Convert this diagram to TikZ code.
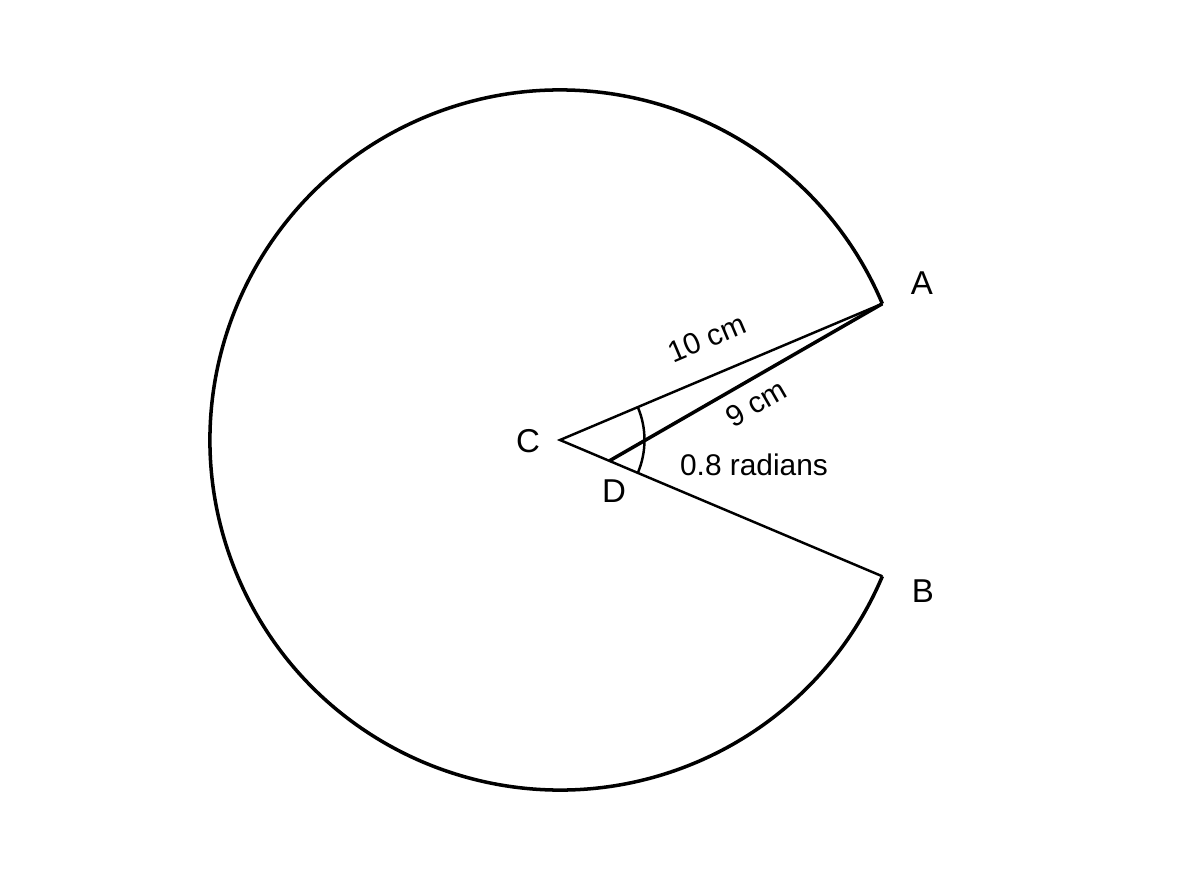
\documentclass[tikz,border=0pt]{standalone}
\usepackage{fontspec}
\setmainfont{Liberation Sans}
\begin{document}
\begin{tikzpicture}[
  thick line/.style={line width=1.0pt, line join=miter},
  thin line/.style={line width=0.7pt},
  ptlabel/.style={font=\fontsize{9.4}{11}\selectfont, inner sep=0pt},
  dimlabel/.style={font=\fontsize{8.5}{10}\selectfont, inner sep=0pt}
]
\useasboundingbox (-5.6,-4.4) rectangle (6.4,4.4);
\pgfmathsetmacro{\ha}{22.918}
\coordinate (C) at (0,0);
\coordinate (A) at (\ha:3.5);
\coordinate (B) at (-\ha:3.5);
\coordinate (D) at (-\ha:0.536);
% major arc
\draw[thick line] (A) arc[start angle=\ha, end angle=360-\ha, radius=3.5];
% radii
\draw[thin line, line join=miter] (A) -- (C) -- (B);
\draw[thick line] (D) -- (A);
% angle mark
\draw[thin line] (\ha:0.845) arc[start angle=\ha, end angle=-\ha, radius=0.845];
% labels
\node[ptlabel] (lA) at (3.62,1.57) {A};
\node[ptlabel] (lB) at (3.63,-1.51) {B};
\node[ptlabel] (lC) at (-0.32,-0.01) {C};
\node[ptlabel] (lD) at (0.54,-0.51) {D};
\node[dimlabel, rotate=23] (l10) at (1.47,1.02) {10 cm};
\node[dimlabel, rotate=30] (l9) at (1.96,0.37) {9 cm};
\node[dimlabel] (lrad) at (1.94,-0.25) {0.8 radians};
\end{tikzpicture}
\end{document}
